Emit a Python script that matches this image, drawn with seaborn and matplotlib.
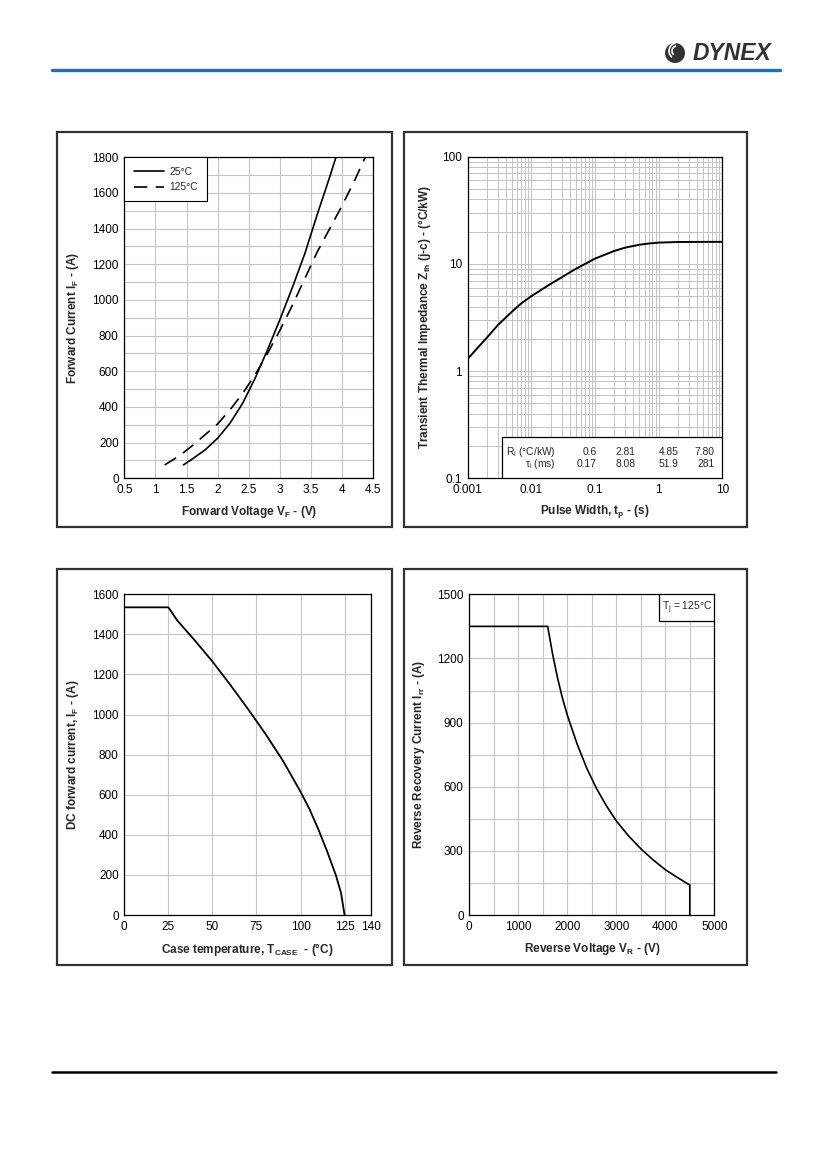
import numpy as np
import matplotlib
matplotlib.use("Agg")
import matplotlib.pyplot as plt
import seaborn as sns
from matplotlib.patches import Rectangle, Circle, Arc
from matplotlib.lines import Line2D
from matplotlib.ticker import MultipleLocator, FixedLocator, FuncFormatter, LogLocator, NullFormatter
from matplotlib.transforms import IdentityTransform

# forward characteristics
vf_25 = [1.45, 1.6, 1.8, 2.0, 2.2, 2.4, 2.6, 2.8, 3.0, 3.2, 3.4, 3.6, 3.8, 3.9]
if_25 = [75, 110, 160, 225, 310, 420, 560, 720, 890, 1070, 1260, 1480, 1690, 1800]
vf_125 = [1.15, 1.4, 1.6, 1.8, 2.0, 2.2, 2.4, 2.6, 2.8, 3.0, 3.2, 3.4, 3.6, 3.8, 4.0, 4.2, 4.37]
if_125 = [75, 130, 185, 245, 305, 385, 475, 580, 700, 830, 970, 1120, 1270, 1400, 1530, 1670, 1800]

# transient thermal impedance
tp = [0.001, 0.0015, 0.002, 0.003, 0.005, 0.007, 0.01, 0.02, 0.03, 0.05, 0.07, 0.1,
      0.2, 0.3, 0.5, 0.7, 1, 2, 5, 10]
zth = [1.3, 1.7, 2.05, 2.7, 3.6, 4.3, 5.0, 6.5, 7.5, 9.0, 10.0, 11.2,
       13.2, 14.2, 15.1, 15.5, 15.8, 16.0, 16.05, 16.06]
r_i = ["0.6", "2.81", "4.85", "7.80"]
tau_i = ["0.17", "8.08", "51.9", "281"]

# DC current derating
t_case = [0, 25, 30, 40, 50, 60, 70, 80, 90, 100, 105, 110, 115, 120, 123, 125]
i_dc = [1535, 1535, 1470, 1370, 1265, 1150, 1030, 905, 770, 615, 530, 430, 320, 200, 110, 0]

# reverse recovery current
v_r = [0, 1600, 1700, 1800, 1900, 2000, 2200, 2400, 2600, 2800, 3000, 3250, 3500,
       3750, 4000, 4250, 4500, 4500]
i_rr = [1350, 1350, 1220, 1110, 1015, 935, 800, 685, 590, 510, 440, 370, 310,
        258, 212, 175, 140, 0]

W, H = 827, 1169

sns.set_style("white")
plt.rcParams['font.family'] = ['Liberation Sans', 'DejaVu Sans']
plt.rcParams['mathtext.fontset'] = 'custom'
plt.rcParams['mathtext.rm'] = 'Liberation Sans'
plt.rcParams['mathtext.bf'] = 'Liberation Sans:bold'
plt.rcParams['mathtext.it'] = 'Liberation Sans:italic'

GRID = '#c4c4c4'
TICK_FS = 8.5
LAB_FS = 8.5

fig = plt.figure(figsize=(W / 100, H / 100), dpi=100)


def px_axes(l, t, r, b):
    return fig.add_axes([l / W, 1 - b / H, (r - l) / W, (b - t) / H])


def panel(l, t, r, b):
    fig.add_artist(Rectangle((l / W, 1 - b / H), (r - l) / W, (b - t) / H,
                             fill=False, ec='#333333', lw=1.6))


def style(ax, xlabel, ylabel, ylab_x, xlab_y):
    for s in ax.spines.values():
        s.set_visible(True)
        s.set_color('black')
        s.set_linewidth(0.9)
    ax.tick_params(which='both', length=0, pad=4, labelsize=TICK_FS, colors='black')
    ax.set_axisbelow(True)
    ax.set_xlabel(xlabel, fontsize=LAB_FS, fontweight='bold')
    ax.set_ylabel(ylabel, fontsize=LAB_FS, fontweight='bold')
    ax.yaxis.set_label_coords(ylab_x, 0.5)
    ax.xaxis.set_label_coords(0.5, xlab_y)


fmt_g = FuncFormatter(lambda v, p: f"{v:g}")

# ---- panels
panel(57.5, 131.5, 391.5, 526.5)
panel(403.5, 131.5, 747, 526.5)
panel(57.5, 568.5, 391.5, 965)
panel(403.5, 568.5, 747, 965)

# ---- top left: forward characteristics
ax1 = px_axes(124.3, 157.3, 373.3, 478.3)
sns.lineplot(x=vf_25, y=if_25, ax=ax1, color='black', lw=1.2, sort=False,
             estimator=None, label='25°C')
sns.lineplot(x=vf_125, y=if_125, ax=ax1, color='black', lw=1.2, sort=False,
             estimator=None, label='125°C', ls=(0, (8, 5)))
ax1.set_xlim(0.5, 4.5)
ax1.set_ylim(0, 1800)
ax1.xaxis.set_major_locator(MultipleLocator(0.5))
ax1.xaxis.set_major_formatter(fmt_g)
ax1.yaxis.set_major_locator(MultipleLocator(200))
ax1.yaxis.set_minor_locator(MultipleLocator(100))
ax1.grid(True, which='major', color=GRID, lw=0.8)
ax1.grid(True, which='minor', axis='y', color=GRID, lw=0.8)
leg = ax1.legend(loc='upper left', borderaxespad=0, fancybox=False, framealpha=1,
                 edgecolor='black', fontsize=7.4, handlelength=3.0, handletextpad=0.5,
                 borderpad=0.9, labelspacing=0.55)
leg.get_frame().set_linewidth(0.8)
style(ax1, r'Forward Voltage V$_\mathregular{F}$ - (V)',
      r'Forward Current I$_\mathregular{F}$ - (A)', -0.174, -0.080)

# ---- top right: transient thermal impedance
ax2 = px_axes(467.7, 156.7, 722.3, 478.3)
sns.lineplot(x=tp, y=zth, ax=ax2, color='black', lw=1.4, sort=False, estimator=None)
ax2.set_xscale('log')
ax2.set_yscale('log')
ax2.set_xlim(0.001, 10)
ax2.set_ylim(0.1, 100)
ax2.xaxis.set_major_locator(FixedLocator([0.001, 0.01, 0.1, 1, 10]))
ax2.yaxis.set_major_locator(FixedLocator([0.1, 1, 10, 100]))
ax2.xaxis.set_major_formatter(fmt_g)
ax2.yaxis.set_major_formatter(fmt_g)
ax2.xaxis.set_minor_locator(LogLocator(base=10, subs=np.arange(2, 10)))
ax2.yaxis.set_minor_locator(LogLocator(base=10, subs=np.arange(2, 10)))
ax2.xaxis.set_minor_formatter(NullFormatter())
ax2.yaxis.set_minor_formatter(NullFormatter())
ax2.grid(True, which='both', color=GRID, lw=0.7)
ax2.add_patch(Rectangle((0.136, 0.0), 0.864, 0.127, transform=ax2.transAxes,
                        fc='white', ec='black', lw=0.9, zorder=5))
ax2.text(0.347, 0.083, r'R$_\mathregular{i}$ (°C/kW)', transform=ax2.transAxes,
         ha='right', va='center', fontsize=7.4, zorder=6)
ax2.text(0.347, 0.0435, r'τ$_\mathregular{i}$ (ms)', transform=ax2.transAxes,
         ha='right', va='center', fontsize=7.4, zorder=6)
for xc, r, t in zip([0.507, 0.658, 0.829, 0.971], r_i, tau_i):
    ax2.text(xc, 0.083, r, transform=ax2.transAxes, ha='right', va='center',
             fontsize=7.4, zorder=6)
    ax2.text(xc, 0.0435, t, transform=ax2.transAxes, ha='right', va='center',
             fontsize=7.4, zorder=6)
style(ax2, r'Pulse Width, t$_\mathbf{p}$ - (s)',
      r'Transient Thermal Impedance Z$_\mathbf{th}$ (j-c) - (°C/kW)', -0.136, -0.076)

# ---- bottom left: DC current derating
ax3 = px_axes(124.3, 594.3, 371.0, 915.0)
sns.lineplot(x=t_case, y=i_dc, ax=ax3, color='black', lw=1.3, sort=False, estimator=None)
ax3.set_xlim(0, 140)
ax3.set_ylim(0, 1600)
ax3.xaxis.set_major_locator(FixedLocator([0, 25, 50, 75, 100, 125, 140]))
ax3.yaxis.set_major_locator(MultipleLocator(200))
ax3.grid(True, which='major', color=GRID, lw=0.8)
style(ax3, r'Case temperature, T$_\mathregular{CASE}$  - (°C)',
      r'DC forward current, I$_\mathbf{F}$ - (A)', -0.176, -0.080)

# ---- bottom right: reverse recovery current
ax4 = px_axes(469.3, 594.3, 714.3, 915.0)
sns.lineplot(x=v_r, y=i_rr, ax=ax4, color='black', lw=1.2, sort=False, estimator=None)
ax4.set_xlim(0, 5000)
ax4.set_ylim(0, 1500)
ax4.xaxis.set_major_locator(MultipleLocator(1000))
ax4.xaxis.set_minor_locator(MultipleLocator(500))
ax4.yaxis.set_major_locator(MultipleLocator(300))
ax4.yaxis.set_minor_locator(MultipleLocator(150))
ax4.grid(True, which='both', color=GRID, lw=0.8)
ax4.add_patch(Rectangle((0.776, 0.916), 0.224, 0.084, transform=ax4.transAxes,
                        fc='white', ec='black', lw=0.9, zorder=5))
ax4.text(0.888, 0.958, r'T$_\mathregular{j}$ = 125°C', transform=ax4.transAxes,
         ha='center', va='center', fontsize=7.4, zorder=6)
style(ax4, r'Reverse Voltage V$_\mathbf{R}$ - (V)',
      r'Reverse Recovery Current I$_\mathregular{rr}$ - (A)', -0.173, -0.081)

# ---- header / footer
fig.add_artist(Line2D([52 / W, 780 / W], [1 - 70 / H, 1 - 70 / H], color='#1b6fc2', lw=2.4))
fig.add_artist(Line2D([52 / W, 776 / W], [1 - 1072 / H, 1 - 1072 / H], color='black', lw=1.8))
fig.text(771 / W, 1 - 53 / H, 'DYNEX', ha='right', va='center', fontsize=16.5,
         fontweight='heavy', fontstyle='italic', color='#333333')
cx, cy = 675, H - 53
fig.add_artist(Circle((cx, cy), 10, transform=IdentityTransform(), fc='#333333', ec='none'))
for rr in (5, 8):
    fig.add_artist(Arc((cx + 2, cy + 2), rr * 2, rr * 2, theta1=100, theta2=230,
                       transform=IdentityTransform(), color='white', lw=1.2))

fig.savefig('out.png', dpi=100)
